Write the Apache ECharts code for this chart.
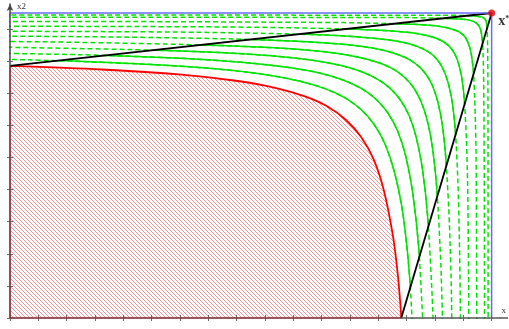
<!DOCTYPE html>
<html>
<head>
<meta charset="utf-8">
<script src="https://cdn.jsdelivr.net/npm/echarts@6/dist/echarts.min.js"></script>
<style>
  html, body { margin: 0; padding: 0; background: #fff; }
  #chart { width: 509px; height: 329px; }
</style>
</head>
<body>
<div id="chart"></div>
<script>
// axis ticks (no labels on the picture)
const xTicks = [0, 1, 2, 3, 4, 5, 6, 7, 8, 9, 10, 11, 12, 13, 14, 15, 16, 17]
const yTicks = [0, 1, 2, 3, 4, 5, 6, 7, 8, 9]
const xMax = 17.56
const yMax = 9.78

// ideal point x* and the two ends of the front
const idealPoint = [17, 9.5]
const frontLeft = [0, 7.85]
const frontBottom = [13.81, 0]

// red front (boundary of the hatched set)
const redCurve = [[0, 7.85], [3.25, 7.74], [6.06, 7.58], [7.97, 7.39], [9.36, 7.17], [10.41, 6.90],
  [11.22, 6.58], [11.87, 6.16], [12.40, 5.63], [12.84, 4.93], [13.20, 3.96], [13.52, 2.54],
  [13.69, 1.34], [13.79, 0.30], [13.81, 0]]

// green level curves, outermost to innermost
const curve90 = [[-6.43, 8.14], [0.65, 8.04], [4.63, 7.91], [7.15, 7.77], [8.87, 7.60], [10.12, 7.40],
  [11.07, 7.16], [11.80, 6.87], [12.38, 6.50], [12.86, 6.02], [13.25, 5.39], [13.58, 4.51],
  [13.87, 3.24], [14.11, 1.22], [14.32, -2.35]]
const curve80 = [[-3.82, 8.29], [2.46, 8.20], [6.0, 8.09], [8.25, 7.96], [9.78, 7.81], [10.89, 7.64],
  [11.73, 7.42], [12.38, 7.16], [12.90, 6.83], [13.32, 6.41], [13.67, 5.85], [13.96, 5.07],
  [14.21, 3.93], [14.43, 2.14], [14.62, -1.04]]
const curve70 = [[-1.22, 8.45], [4.28, 8.36], [7.38, 8.27], [9.34, 8.16], [10.68, 8.03], [11.65, 7.87],
  [12.39, 7.68], [12.95, 7.45], [13.41, 7.16], [13.78, 6.79], [14.09, 6.30], [14.34, 5.62],
  [14.56, 4.63], [14.75, 3.06], [14.92, 0.28], [15.01, -2.69]]
const curve60 = [[-3.65, 8.63], [1.38, 8.60], [6.10, 8.52], [8.75, 8.44], [10.44, 8.35], [11.58, 8.24],
  [12.42, 8.10], [13.05, 7.94], [13.53, 7.75], [13.92, 7.50], [14.24, 7.18], [14.50, 6.76],
  [14.72, 6.18], [14.91, 5.33], [15.07, 3.98], [15.21, 1.60], [15.29, -0.95]]
const curve50 = [[-0.2, 8.78], [3.98, 8.75], [7.92, 8.69], [10.13, 8.62], [11.53, 8.54], [12.49, 8.45],
  [13.18, 8.34], [13.71, 8.20], [14.11, 8.04], [14.44, 7.83], [14.70, 7.57], [14.92, 7.22],
  [15.10, 6.73], [15.26, 6.02], [15.39, 4.90], [15.51, 2.92], [15.58, 0.79], [15.61, -1.44]]
const curve40 = [[-5.84, 8.95], [3.24, 8.92], [6.59, 8.90], [9.73, 8.85], [11.50, 8.80], [12.62, 8.73],
  [13.39, 8.66], [13.94, 8.57], [14.36, 8.46], [14.69, 8.33], [14.95, 8.17], [15.16, 7.95],
  [15.33, 7.67], [15.48, 7.28], [15.61, 6.72], [15.72, 5.82], [15.81, 4.23], [15.86, 2.53],
  [15.89, 0.75], [15.92, -2.06]]
const curve30 = [[-0.13, 9.09], [6.68, 9.07], [9.19, 9.05], [11.55, 9.01], [12.88, 8.97], [13.72, 8.92],
  [14.29, 8.87], [14.71, 8.80], [15.02, 8.72], [15.27, 8.62], [15.46, 8.50], [15.62, 8.34],
  [15.75, 8.13], [15.86, 7.84], [15.96, 7.41], [16.04, 6.74], [16.11, 5.55], [16.15, 4.27],
  [16.17, 2.94], [16.19, 0.83], [16.22, -6.1]]
const curve20 = [[-3.56, 9.24], [5.58, 9.23], [10.12, 9.21], [11.79, 9.20], [13.37, 9.17], [14.25, 9.15],
  [14.81, 9.12], [15.19, 9.08], [15.47, 9.03], [15.84, 8.92], [16.08, 8.73], [16.24, 8.39],
  [16.30, 8.11], [16.36, 7.66], [16.40, 6.87], [16.43, 6.02], [16.45, 5.13], [16.46, 3.72],
  [16.48, -0.9]]
const curve10 = [[-2.46, 9.37], [6.72, 9.37], [11.29, 9.36], [13.56, 9.36], [15.18, 9.34], [15.91, 9.31],
  [16.24, 9.27], [16.42, 9.21], [16.54, 9.11], [16.62, 8.95], [16.68, 8.58], [16.70, 8.18],
  [16.72, 7.31], [16.74, 4.30], [16.75, -0.35]]
const curve05 = [[-21.42, 9.44], [0.85, 9.44], [7.27, 9.44], [11.86, 9.43], [14.15, 9.43], [15.28, 9.43],
  [16.09, 9.42], [16.45, 9.40], [16.62, 9.38], [16.71, 9.35], [16.77, 9.31], [16.81, 9.22],
  [16.84, 9.04], [16.86, 8.41], [16.87, 6.90], [16.875, 1.32], [16.88, -9.95]]

const greenCurves = [curve90, curve80, curve70, curve60, curve50, curve40, curve30, curve20, curve10, curve05]

const green = '#00e400'
const chart = echarts.init(document.getElementById('chart'))

// hatch pattern for the red set
const hatch = document.createElement('canvas')
hatch.width = 4
hatch.height = 4
const hctx = hatch.getContext('2d')
hctx.fillStyle = 'rgba(238, 110, 110, 0.7)'
for (let i = 0; i < 4; i++) hctx.fillRect(i, i, 1, 1)

const axisBase = {
  min: 0,
  splitLine: { show: false },
  axisLabel: { show: false },
  z: 10,
}

const series = []

// solid copies, later hidden outside the front triangle by the white mask
greenCurves.forEach(c => {
  series.push({
    type: 'line', data: c, smooth: 0.25, symbol: 'none', silent: true, z: 2,
    lineStyle: { color: green, width: 1.5 },
  })
})

// white mask covering everything outside the region under the black lines
series.push({
  type: 'custom',
  z: 3,
  silent: true,
  data: [[0, 0]],
  renderItem: (params, api) => {
    const pts = [frontLeft, [0, yMax], [xMax, yMax], [xMax, 0], frontBottom, idealPoint].map(p => api.coord(p))
    return { type: 'polygon', shape: { points: pts }, style: { fill: '#fff' } }
  },
})

// dashed copies on top
greenCurves.forEach(c => {
  series.push({
    type: 'line', data: c, smooth: 0.25, symbol: 'none', silent: true, z: 4,
    lineStyle: { color: green, width: 1.5, type: [5, 3] },
  })
})

series.push({
  type: 'line', data: redCurve, smooth: 0.3, symbol: 'none', silent: true, z: 5,
  lineStyle: { color: '#ff0000', width: 1.8 },
  areaStyle: { color: { image: hatch, repeat: 'repeat' }, opacity: 1 },
})

// red outline of the set along the axes
series.push({
  type: 'line', data: [redCurve[0], [0, 0], redCurve[redCurve.length - 1]], symbol: 'none', silent: true, z: 11,
  lineStyle: { color: 'rgba(220, 0, 0, 0.45)', width: 1.5 },
})

// black lines from the front ends to x*
series.push({
  type: 'line', data: [frontLeft, idealPoint], symbol: 'none', silent: true, z: 6,
  lineStyle: { color: '#000', width: 1.8 },
})
series.push({
  type: 'line', data: [frontBottom, idealPoint], symbol: 'none', silent: true, z: 6,
  lineStyle: { color: '#000', width: 1.8 },
})

// blue box through x*
series.push({
  type: 'line', data: [[0, idealPoint[1]], idealPoint, [idealPoint[0], 0]], symbol: 'none', silent: true, z: 6,
  lineStyle: { color: '#6a6aff', width: 1.5 },
})

series.push({
  type: 'scatter', data: [idealPoint], symbolSize: 7, silent: true, z: 7,
  itemStyle: { color: '#e00000' },
  label: {
    show: true,
    position: [10, 5],
    align: 'left',
    verticalAlign: 'top',
    formatter: '{a|x}{b|*}',
    rich: {
      a: { fontFamily: 'Liberation Serif', fontWeight: 'bold', fontSize: 14, color: '#000' },
      b: { fontFamily: 'Liberation Serif', fontWeight: 'bold', fontSize: 8, color: '#000', verticalAlign: 'top', padding: [0, 0, 6, 0] },
    },
  },
})

const option = {
  animation: false,
  backgroundColor: '#fff',
  grid: { left: 10, right: 0, top: 4, bottom: 11 },
  xAxis: [
    {
      ...axisBase,
      type: 'value',
      max: xMax,
      name: 'x',
      nameLocation: 'end',
      nameGap: -6,
      nameTextStyle: { fontFamily: 'Liberation Serif', fontSize: 9, color: '#333', align: 'left', verticalAlign: 'bottom', padding: [0, 0, 3, 0] },
      axisLine: { show: true, onZero: false, lineStyle: { color: '#555', width: 1.5 } },
      axisTick: { show: true, customValues: xTicks, length: 3, lineStyle: { color: '#666' } },
    },
    {
      ...axisBase,
      type: 'value',
      position: 'bottom',
      max: xMax,
      axisLine: { show: false, onZero: false },
      axisTick: { show: true, inside: true, customValues: xTicks, length: 3, lineStyle: { color: '#666' } },
    },
  ],
  yAxis: [
    {
      ...axisBase,
      type: 'value',
      max: yMax,
      name: 'x2',
      nameLocation: 'end',
      nameGap: -3,
      nameTextStyle: { fontFamily: 'Liberation Serif', fontSize: 9, color: '#333', align: 'left', verticalAlign: 'middle', padding: [0, 0, 0, 7] },
      axisLine: { show: true, onZero: false, symbol: ['none', 'arrow'], symbolSize: [5, 7], lineStyle: { color: '#444', width: 1.5 } },
      axisTick: { show: true, customValues: yTicks, length: 3, lineStyle: { color: '#666' } },
    },
    {
      ...axisBase,
      type: 'value',
      position: 'left',
      max: yMax,
      axisLine: { show: false, onZero: false },
      axisTick: { show: true, inside: true, customValues: yTicks, length: 3, lineStyle: { color: '#666' } },
    },
  ],
  series,
}

chart.setOption(option)
</script>
</body>
</html>
